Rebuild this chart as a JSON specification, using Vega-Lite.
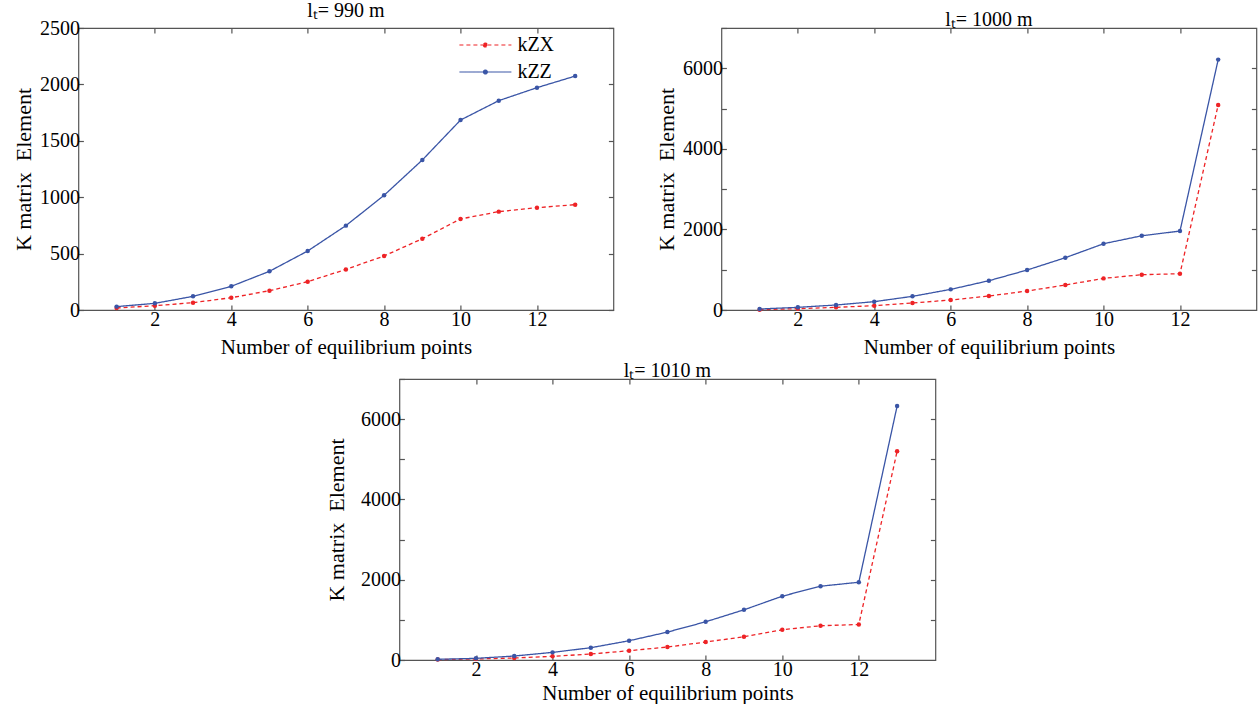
{
  "$schema": "https://vega.github.io/schema/vega-lite/v6.json",
  "padding": {"left": 11, "top": 0, "right": 0, "bottom": 0},
  "background": "white",
  "config": {
    "font": "Liberation Serif",
    "view": {"stroke": "#555555", "strokeWidth": 1.2},
    "title": {"font": "Liberation Serif", "fontSize": 20, "fontWeight": "normal", "color": "#000000", "offset": -3},
    "axis": {
      "domain": false,
      "grid": false,
      "tickSize": -5,
      "tickColor": "#555555",
      "tickWidth": 1.2,
      "labelFont": "Liberation Serif",
      "labelFontSize": 20,
      "labelColor": "#000000",
      "titleFont": "Liberation Serif",
      "titleFontSize": 21,
      "titleFontWeight": "normal",
      "titleColor": "#000000"
    },
    "legend": {"labelFont": "Liberation Serif", "labelFontSize": 20, "labelColor": "#000000"}
  },
  "center": true,
  "spacing": 2,
  "vconcat": [
    {
      "spacing": 39,
      "hconcat": [
        {
          "width": 535,
          "height": 282,
          "title": "lₜ= 990 m",
          "data": {"values": [
            {"n": 1, "k": 18, "s": "kZX"}, {"n": 2, "k": 38, "s": "kZX"}, {"n": 3, "k": 65, "s": "kZX"}, {"n": 4, "k": 109, "s": "kZX"}, {"n": 5, "k": 171, "s": "kZX"}, {"n": 6, "k": 251, "s": "kZX"}, {"n": 7, "k": 360, "s": "kZX"}, {"n": 8, "k": 479, "s": "kZX"}, {"n": 9, "k": 632, "s": "kZX"}, {"n": 10, "k": 807, "s": "kZX"}, {"n": 11, "k": 872, "s": "kZX"}, {"n": 12, "k": 907, "s": "kZX"}, {"n": 13, "k": 934, "s": "kZX"},
            {"n": 1, "k": 30, "s": "kZZ"}, {"n": 2, "k": 59, "s": "kZZ"}, {"n": 3, "k": 121, "s": "kZZ"}, {"n": 4, "k": 210, "s": "kZZ"}, {"n": 5, "k": 343, "s": "kZZ"}, {"n": 6, "k": 523, "s": "kZZ"}, {"n": 7, "k": 748, "s": "kZZ"}, {"n": 8, "k": 1017, "s": "kZZ"}, {"n": 9, "k": 1330, "s": "kZZ"}, {"n": 10, "k": 1684, "s": "kZZ"}, {"n": 11, "k": 1856, "s": "kZZ"}, {"n": 12, "k": 1971, "s": "kZZ"}, {"n": 13, "k": 2074, "s": "kZZ"}
          ]},
          "layer": [
            {
              "mark": {"type": "line", "strokeWidth": 1.3, "point": {"filled": true, "size": 20}},
              "encoding": {
                "x": {"field": "n", "type": "quantitative", "scale": {"domain": [0, 14], "nice": false}, "axis": {"values": [2, 4, 6, 8, 10, 12], "title": "Number of equilibrium points", "labelPadding": 4, "titlePadding": 7}},
                "y": {"field": "k", "type": "quantitative", "scale": {"domain": [0, 2500], "nice": false}, "axis": {"values": [0, 500, 1000, 1500, 2000, 2500], "format": "d", "title": "K matrix\u00a0 Element", "titleFontSize": 22, "labelPadding": 4, "titlePadding": 4}},
                "color": {"field": "s", "type": "nominal", "scale": {"domain": ["kZX", "kZZ"], "range": ["#ee2326", "#3a55a6"]}, "legend": {"title": null, "orient": "none", "legendX": 393, "legendY": 3, "padding": 0, "rowPadding": 3, "symbolType": "M-2,0H2M-0.15,0A0.15,0.15,0,1,0,0.15,0A0.15,0.15,0,1,0,-0.15,0", "symbolSize": 676, "symbolStrokeWidth": 1.2, "labelOffset": 18}},
                "strokeDash": {"field": "s", "type": "nominal", "scale": {"domain": ["kZX", "kZZ"], "range": [[4, 3], [1, 0]]}, "legend": {"title": null, "orient": "none", "legendX": 393, "legendY": 3, "padding": 0, "rowPadding": 3, "symbolType": "M-2,0H2M-0.15,0A0.15,0.15,0,1,0,0.15,0A0.15,0.15,0,1,0,-0.15,0", "symbolSize": 676, "symbolStrokeWidth": 1.2, "labelOffset": 18}}
              }
            },
            {
              "mark": {"type": "line", "opacity": 0},
              "encoding": {
                "x": {"field": "n", "type": "quantitative", "axis": {"orient": "top", "values": [2, 4, 6, 8, 10, 12], "labels": false, "title": null}},
                "y": {"field": "k", "type": "quantitative", "axis": {"orient": "right", "values": [0, 500, 1000, 1500, 2000, 2500], "labels": false, "title": null}}
              }
            }
          ],
          "resolve": {"axis": {"x": "independent", "y": "independent"}}
        },
        {
          "width": 535,
          "height": 282,
          "title": "lₜ= 1000 m",
          "data": {"values": [
            {"n": 1, "k": 8, "s": "kZX"}, {"n": 2, "k": 33, "s": "kZX"}, {"n": 3, "k": 66, "s": "kZX"}, {"n": 4, "k": 107, "s": "kZX"}, {"n": 5, "k": 174, "s": "kZX"}, {"n": 6, "k": 248, "s": "kZX"}, {"n": 7, "k": 347, "s": "kZX"}, {"n": 8, "k": 471, "s": "kZX"}, {"n": 9, "k": 620, "s": "kZX"}, {"n": 10, "k": 785, "s": "kZX"}, {"n": 11, "k": 876, "s": "kZX"}, {"n": 12, "k": 901, "s": "kZX"}, {"n": 13, "k": 5091, "s": "kZX"},
            {"n": 1, "k": 25, "s": "kZZ"}, {"n": 2, "k": 66, "s": "kZZ"}, {"n": 3, "k": 124, "s": "kZZ"}, {"n": 4, "k": 207, "s": "kZZ"}, {"n": 5, "k": 339, "s": "kZZ"}, {"n": 6, "k": 512, "s": "kZZ"}, {"n": 7, "k": 727, "s": "kZZ"}, {"n": 8, "k": 992, "s": "kZZ"}, {"n": 9, "k": 1298, "s": "kZZ"}, {"n": 10, "k": 1645, "s": "kZZ"}, {"n": 11, "k": 1843, "s": "kZZ"}, {"n": 12, "k": 1959, "s": "kZZ"}, {"n": 13, "k": 6215, "s": "kZZ"}
          ]},
          "layer": [
            {
              "mark": {"type": "line", "strokeWidth": 1.3, "point": {"filled": true, "size": 20}},
              "encoding": {
                "x": {"field": "n", "type": "quantitative", "scale": {"domain": [0, 14], "nice": false}, "axis": {"values": [2, 4, 6, 8, 10, 12], "title": "Number of equilibrium points", "labelPadding": 4, "titlePadding": 7}},
                "y": {"field": "k", "type": "quantitative", "scale": {"domain": [0, 7000], "nice": false}, "axis": {"values": [0, 1000, 2000, 3000, 4000, 5000, 6000, 7000], "labelExpr": "datum.value % 2000 == 0 && datum.value < 7000 ? datum.label : ''", "format": "d", "title": "K matrix\u00a0 Element", "titleFontSize": 22, "labelPadding": 4, "titlePadding": 4}},
                "color": {"field": "s", "type": "nominal", "scale": {"domain": ["kZX", "kZZ"], "range": ["#ee2326", "#3a55a6"]}, "legend": null},
                "strokeDash": {"field": "s", "type": "nominal", "scale": {"domain": ["kZX", "kZZ"], "range": [[4, 3], [1, 0]]}, "legend": null}
              }
            },
            {
              "mark": {"type": "line", "opacity": 0},
              "encoding": {
                "x": {"field": "n", "type": "quantitative", "axis": {"orient": "top", "values": [2, 4, 6, 8, 10, 12], "labels": false, "title": null}},
                "y": {"field": "k", "type": "quantitative", "axis": {"orient": "right", "values": [1000, 2000, 3000, 4000, 5000, 6000], "labels": false, "title": null}}
              }
            }
          ],
          "resolve": {"axis": {"x": "independent", "y": "independent"}}
        }
      ]
    },
    {
      "width": 536,
      "height": 281,
      "title": "lₜ= 1010 m",
      "data": {"values": [
        {"n": 1, "k": 10, "s": "kZX"}, {"n": 2, "k": 25, "s": "kZX"}, {"n": 3, "k": 50, "s": "kZX"}, {"n": 4, "k": 91, "s": "kZX"}, {"n": 5, "k": 149, "s": "kZX"}, {"n": 6, "k": 232, "s": "kZX"}, {"n": 7, "k": 323, "s": "kZX"}, {"n": 8, "k": 447, "s": "kZX"}, {"n": 9, "k": 579, "s": "kZX"}, {"n": 10, "k": 753, "s": "kZX"}, {"n": 11, "k": 853, "s": "kZX"}, {"n": 12, "k": 886, "s": "kZX"}, {"n": 13, "k": 5199, "s": "kZX"},
        {"n": 1, "k": 17, "s": "kZZ"}, {"n": 2, "k": 41, "s": "kZZ"}, {"n": 3, "k": 99, "s": "kZZ"}, {"n": 4, "k": 190, "s": "kZZ"}, {"n": 5, "k": 306, "s": "kZZ"}, {"n": 6, "k": 480, "s": "kZZ"}, {"n": 7, "k": 695, "s": "kZZ"}, {"n": 8, "k": 952, "s": "kZZ"}, {"n": 9, "k": 1250, "s": "kZZ"}, {"n": 10, "k": 1589, "s": "kZZ"}, {"n": 11, "k": 1838, "s": "kZZ"}, {"n": 12, "k": 1937, "s": "kZZ"}, {"n": 13, "k": 6325, "s": "kZZ"}
      ]},
      "layer": [
        {
          "mark": {"type": "line", "strokeWidth": 1.3, "point": {"filled": true, "size": 20}},
          "encoding": {
            "x": {"field": "n", "type": "quantitative", "scale": {"domain": [0, 14], "nice": false}, "axis": {"values": [2, 4, 6, 8, 10, 12], "title": "Number of equilibrium points", "labelPadding": 4, "titlePadding": 3}},
            "y": {"field": "k", "type": "quantitative", "scale": {"domain": [0, 7000], "nice": false}, "axis": {"values": [0, 1000, 2000, 3000, 4000, 5000, 6000, 7000], "labelExpr": "datum.value % 2000 == 0 && datum.value < 7000 ? datum.label : ''", "format": "d", "title": "K matrix\u00a0 Element", "titleFontSize": 22, "labelPadding": 4, "titlePadding": 12}},
            "color": {"field": "s", "type": "nominal", "scale": {"domain": ["kZX", "kZZ"], "range": ["#ee2326", "#3a55a6"]}, "legend": null},
            "strokeDash": {"field": "s", "type": "nominal", "scale": {"domain": ["kZX", "kZZ"], "range": [[4, 3], [1, 0]]}, "legend": null}
          }
        },
        {
          "mark": {"type": "line", "opacity": 0},
          "encoding": {
            "x": {"field": "n", "type": "quantitative", "axis": {"orient": "top", "values": [2, 4, 6, 8, 10, 12], "labels": false, "title": null}},
            "y": {"field": "k", "type": "quantitative", "axis": {"orient": "right", "values": [1000, 2000, 3000, 4000, 5000, 6000], "labels": false, "title": null}}
          }
        }
      ],
      "resolve": {"axis": {"x": "independent", "y": "independent"}}
    }
  ],
  "resolve": {"scale": {"color": "independent", "strokeDash": "independent"}, "legend": {"color": "independent", "strokeDash": "independent"}}
}
